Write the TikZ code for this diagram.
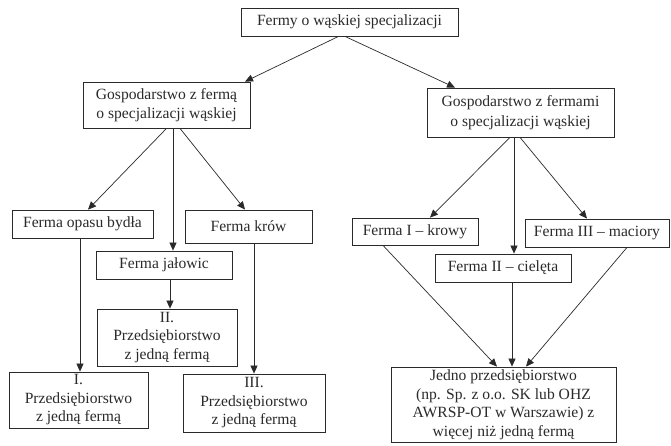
\documentclass[tikz,border=0pt]{standalone}
\usepackage{fontspec}
\setmainfont{Liberation Serif}
\usetikzlibrary{arrows.meta}
\definecolor{ink}{HTML}{2A2A2A}
\begin{document}
\begin{tikzpicture}[x=1pt,y=-1pt,
  box/.style={draw=ink,line width=0.8pt,text=ink,inner sep=0pt,align=center,
    font=\fontsize{15.6}{18.5}\selectfont},
  conn/.style={draw=ink,line width=0.7pt,-{Triangle[length=8pt,width=7pt]}}]
\useasboundingbox (0,0) rectangle (671,445);
\node[box,minimum width=217pt,minimum height=28pt] (top) at (349.5,22) {Fermy o wąskiej specjalizacji};
\node[box,minimum width=167pt,minimum height=46pt] (gl) at (166.5,105) {Gospodarstwo z fermą\\[1pt]o specjalizacji wąskiej};
\node[box,minimum width=187pt,minimum height=49pt] (gr) at (520.5,112.5) {Gospodarstwo z fermami\\[1pt]o specjalizacji wąskiej};
\node[box,minimum width=141pt,minimum height=28pt] (opasu) at (82.5,224) {Ferma opasu bydła};
\node[box,minimum width=127pt,minimum height=33pt] (krow) at (248.5,226.5) {Ferma krów};
\node[box,minimum width=136pt,minimum height=28pt] (jal) at (164,265) {Ferma jałowic};
\node[box,minimum width=140pt,minimum height=57pt] (II) at (167,337.5) {II.\\Przedsiębiorstwo\\z jedną fermą};
\node[box,minimum width=139pt,minimum height=56pt] (I) at (78.5,400) {I.\\Przedsiębiorstwo\\z jedną fermą};
\node[box,minimum width=142pt,minimum height=58pt] (III) at (254,403) {III.\\Przedsiębiorstwo\\z jedną fermą};
\node[box,minimum width=126pt,minimum height=27pt] (krowy) at (415,231.5) {Ferma I – krowy};
\node[box,minimum width=144pt,minimum height=28pt] (maciory) at (597,233) {Ferma III – maciory};
\node[box,minimum width=136pt,minimum height=28pt] (cieleta) at (503,268) {Ferma II – cielęta};
\node[box,minimum width=225pt,minimum height=75pt] (jedno) at (503.5,404.5) {Jedno przedsiębiorstwo\\(np. Sp. z o.o. SK lub OHZ\\AWRSP-OT w Warszawie) z\\więcej niż jedną fermą};
\draw[conn] ([xshift=-11pt]top.south) -- ([xshift=78.5pt]gl.north);
\draw[conn] ([xshift=-4.5pt]top.south) -- ([xshift=-65.5pt]gr.north);
\draw[conn] (gl.south) -- ([xshift=5.5pt]opasu.north);
\draw[conn] ([xshift=6.5pt]gl.south) -- ([xshift=9pt]jal.north);
\draw[conn] ([xshift=13.5pt]gl.south) -- ([xshift=-3.5pt]krow.north);
\draw[conn] ([xshift=-2.5pt]opasu.south) -- ([xshift=1.5pt]I.north);
\draw[conn] ([xshift=6pt]jal.south) -- ([xshift=3pt]II.north);
\draw[conn] ([xshift=5.5pt]krow.south) -- (III.north);
\draw[conn] ([xshift=-10.5pt]gr.south) -- ([xshift=15pt]krowy.north);
\draw[conn] ([xshift=-6.5pt]gr.south) -- ([xshift=11pt]cieleta.north);
\draw[conn] ([xshift=-0.5pt]gr.south) -- ([xshift=-10pt]maciory.north);
\draw[conn] ([xshift=-32pt]krowy.south) -- ([xshift=-6.5pt]jedno.north);
\draw[conn] ([xshift=9pt]cieleta.south) -- ([xshift=8.5pt]jedno.north);
\draw[conn] ([xshift=30pt]maciory.south) -- ([xshift=22.5pt]jedno.north);
\end{tikzpicture}
\end{document}
